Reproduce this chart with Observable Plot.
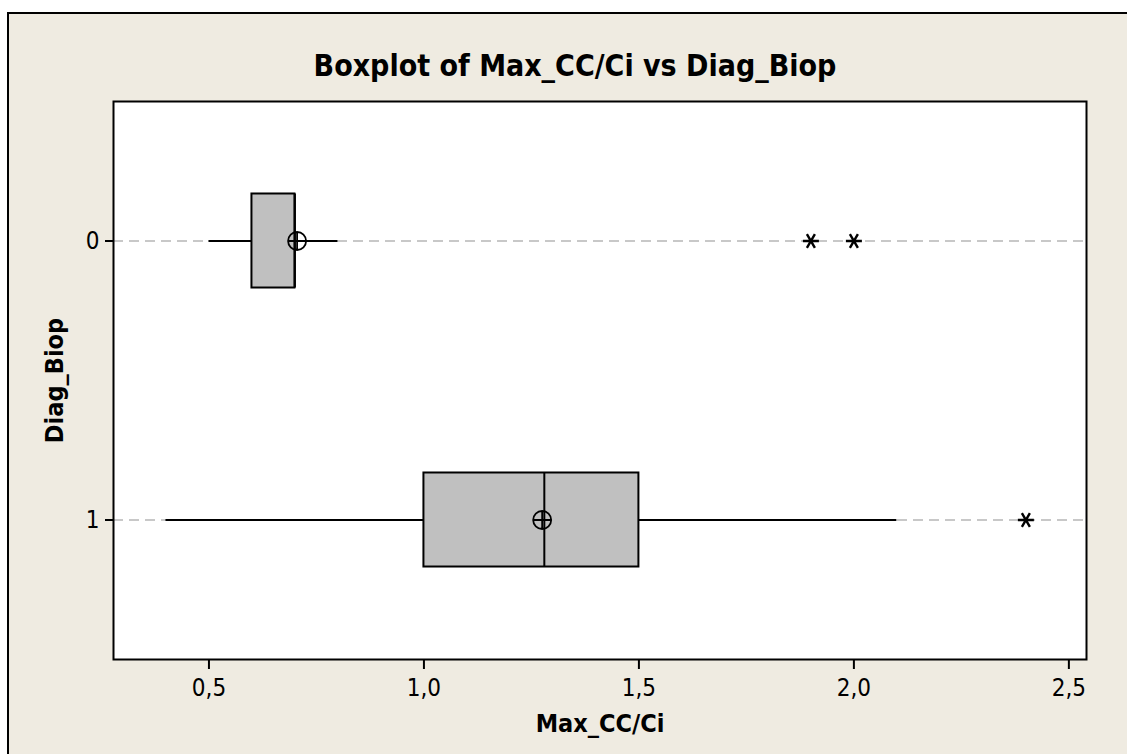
<!DOCTYPE html>
<html>
<head>
<meta charset="utf-8">
<script src="https://cdn.jsdelivr.net/npm/d3@7"></script>
<script src="https://cdn.jsdelivr.net/npm/@observablehq/plot@0.6"></script>
<style>
  html, body { margin: 0; padding: 0; background: #fff; width: 1127px; height: 754px; overflow: hidden; }
  body { font-family: "DejaVu Sans Condensed", "DejaVu Sans", sans-serif; font-stretch: condensed; }
  #panel { position: absolute; left: 7px; top: 12px; width: 1200px; height: 800px;
           background: #EFEBE1; border: 2px solid #000; box-sizing: border-box; }
  #chart { position: absolute; left: 0; top: 0; width: 1127px; }
  #title { width: 1150px; height: 90px; box-sizing: border-box; padding-top: 51px;
           font-size: 30px; line-height: 30px; font-weight: bold; text-align: center; color: #000; }
  #chart svg [aria-label="x-axis label"], #chart svg [aria-label="y-axis label"] { font-weight: bold; font-size: 25px; }
</style>
</head>
<body>
<div id="panel"></div>
<div id="chart">
  <div id="title">Boxplot of Max_CC/Ci vs Diag_Biop</div>
</div>
<script>
// Diag_Biop groups and Max_CC/Ci summary statistics per group
const groups = ["0", "1"];
const whiskerLow = [0.5, 0.4];
const quartile1 = [0.6, 1.0];
const medians = [0.7, 1.28];
const quartile3 = [0.7, 1.5];
const whiskerHigh = [0.8, 2.1];
const means = [0.705, 1.275];

// Outliers beyond the whiskers
const outlierGroups = ["0", "0", "1"];
const outlierValues = [1.9, 2.0, 2.4];

// Axis ticks
const xTicks = [0.5, 1.0, 1.5, 2.0, 2.5];

const stats = groups.map((g, i) => ({
  group: g, lo: whiskerLow[i], q1: quartile1[i], median: medians[i],
  q3: quartile3[i], hi: whiskerHigh[i], mean: means[i]
}));
const outliers = outlierValues.map((v, i) => ({group: outlierGroups[i], value: v}));

const decimalComma = d => d.toFixed(1).replace(".", ",");

// circle with a crosshair, used for the group mean
const meanSymbol = {
  draw(ctx, size) {
    const r = Math.sqrt(size / Math.PI);
    ctx.moveTo(r, 0);
    ctx.arc(0, 0, r, 0, 2 * Math.PI);
    ctx.moveTo(-r, 0); ctx.lineTo(r, 0);
    ctx.moveTo(0, -r); ctx.lineTo(0, r);
  }
};

// six-armed asterisk, used for outliers
const starSymbol = {
  draw(ctx, size) {
    const r = Math.sqrt(size / Math.PI);
    const a = Math.PI / 3;
    ctx.moveTo(-r, 0); ctx.lineTo(r, 0);
    ctx.moveTo(-r * Math.cos(a), -r * Math.sin(a)); ctx.lineTo(r * Math.cos(a), r * Math.sin(a));
    ctx.moveTo(r * Math.cos(a), -r * Math.sin(a)); ctx.lineTo(-r * Math.cos(a), r * Math.sin(a));
  }
};

const chart = Plot.plot({
  width: 1127,
  height: 664,
  marginTop: 11,
  marginBottom: 95,
  marginLeft: 113,
  marginRight: 41,
  style: {
    background: "transparent",
    fontFamily: '"DejaVu Sans Condensed", "DejaVu Sans", sans-serif',
    fontSize: "24px",
    color: "#000",
    overflow: "visible"
  },
  x: {domain: [0.278, 2.541]},
  y: {type: "band", domain: groups, paddingInner: 0.663, paddingOuter: 0.3315, round: false},
  marks: [
    Plot.frame({fill: "white"}),
    Plot.ruleY(groups, {y: d => d, stroke: "#c8c8c8", strokeWidth: 2, strokeDasharray: "10,6"}),
    Plot.ruleY(stats, {y: "group", x1: "lo", x2: "hi", stroke: "black", strokeWidth: 2}),
    Plot.barX(stats, {y: "group", x1: "q1", x2: "q3", fill: "#c0c0c0", stroke: "black", strokeWidth: 2}),
    Plot.tickX(stats, {y: "group", x: "median", stroke: "black", strokeWidth: 2}),
    Plot.dot(stats, {y: "group", x: "mean", r: 9, symbol: meanSymbol, fill: "none", stroke: "black", strokeWidth: 1.8}),
    Plot.dot(outliers, {y: "group", x: "value", r: 8, symbol: starSymbol, fill: "none", stroke: "black", strokeWidth: 2.4}),
    Plot.frame({stroke: "black", strokeWidth: 2}),
    Plot.axisX({
      ticks: xTicks, tickFormat: decimalComma, tickSize: 10, tickPadding: 9, strokeWidth: 2,
      fontSize: 24, label: "Max_CC/Ci", labelAnchor: "center", labelArrow: "none", labelOffset: 72
    }),
    Plot.axisY({
      tickSize: 8, tickPadding: 6, strokeWidth: 2, fontSize: 24,
      label: "Diag_Biop", labelAnchor: "center", labelArrow: "none", labelOffset: 68
    })
  ]
});

document.getElementById("chart").appendChild(chart);
</script>
</body>
</html>
